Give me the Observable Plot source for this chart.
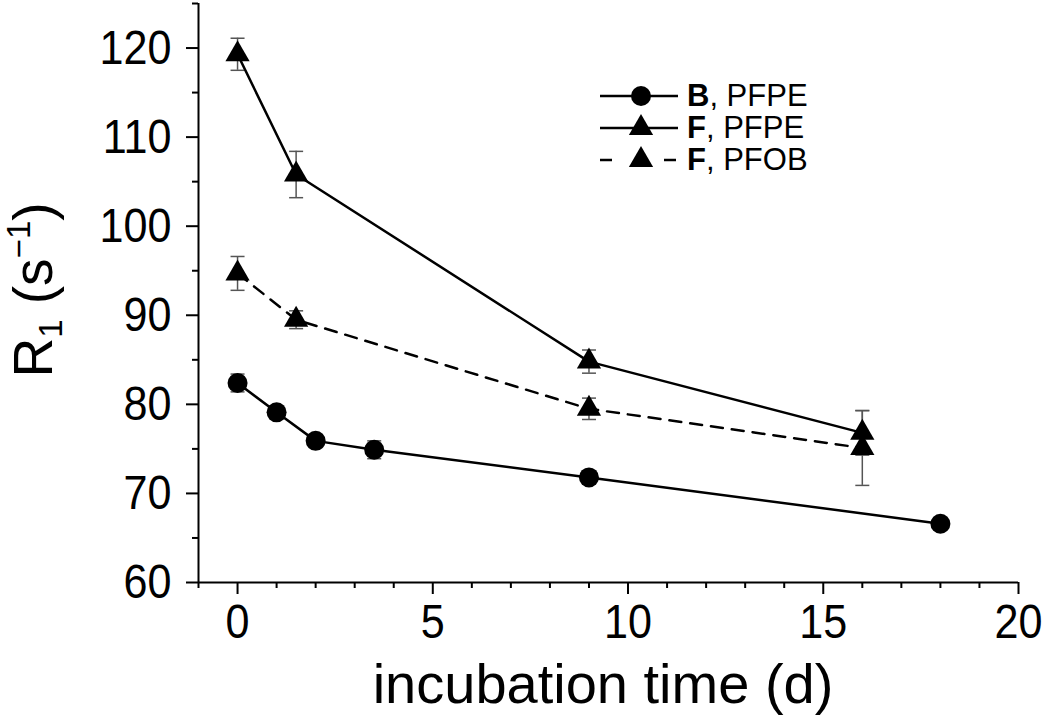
<!DOCTYPE html>
<html>
<head>
<meta charset="utf-8">
<script src="https://cdn.jsdelivr.net/npm/d3@7"></script>
<script src="https://cdn.jsdelivr.net/npm/@observablehq/plot@0.6"></script>
<style>
  html, body { margin: 0; padding: 0; background: #fff; }
  #wrap { position: relative; width: 1050px; height: 716px; font-family: "Liberation Sans", Arial, sans-serif; }
  #legend { position: absolute; left: 598px; top: 80px; }
</style>
</head>
<body>
<div id="wrap"><div id="chart"></div><div id="legend"></div></div>
<script>
// ---- data ----
const daysB = [0, 1, 2, 3.5, 9, 18];
const r1B = [82.4, 79.1, 75.9, 74.9, 71.8, 66.6];
const errB = [1.0, 0.4, 0.4, 1.0, 0.4, 0.4];

const daysF = [0, 1.5, 9, 16];
const r1F_PFPE = [119.3, 105.8, 84.8, 76.8];
const errF_PFPE = [1.8, 2.6, 1.3, 2.5];
const r1F_PFOB = [94.7, 89.5, 79.5, 75.1];
const errF_PFOB = [1.9, 1.0, 1.2, 4.2];

const legendBold = ["B", "F", "F"];
const legendRest = [", PFPE", ", PFPE", ", PFOB"];
const legendSymbols = ["circle", "triangle", "triangle"];
const legendDashed = [false, false, true];

const xDomain = [-1, 20];
const yDomain = [60, 125];
const xMajor = [0, 5, 10, 15, 20];
const xMinor = d3.range(-1, 21, 1).filter(v => v % 5 !== 0);
const yMajor = [60, 70, 80, 90, 100, 110, 120];
const yMinor = [65, 75, 85, 95, 105, 115, 125];

const xLabel = "incubation time (d)";

// ---- tables ----
const B = daysB.map((d, i) => ({day: d, r1: r1B[i], err: errB[i]}));
const FP = daysF.map((d, i) => ({day: d, r1: r1F_PFPE[i], err: errF_PFPE[i]}));
const FO = daysF.map((d, i) => ({day: d, r1: r1F_PFOB[i], err: errF_PFOB[i]}));
const all = [...B, ...FP, ...FO];

const cap = {draw(ctx, size) { const w = Math.sqrt(size / Math.PI); ctx.moveTo(-w, 0); ctx.lineTo(w, 0); }};
const font = "Liberation Sans, Arial, sans-serif";
const errColor = "#555";

const chart = Plot.plot({
  width: 1050,
  height: 716,
  marginLeft: 198,
  marginRight: 32,
  marginTop: 3,
  marginBottom: 134,
  style: {background: "white", fontFamily: font, fontSize: "49px", color: "black"},
  x: {domain: xDomain},
  y: {domain: yDomain},
  marks: [
    Plot.axisY({ticks: yMajor, tickSize: 12, tickPadding: 15, strokeWidth: 2, label: null, fontSize: 49}),
    Plot.axisY({ticks: yMinor, tickSize: 6, strokeWidth: 2, tickFormat: () => "", label: null}),
    Plot.axisX({ticks: xMajor, tickSize: 12, tickPadding: 9, strokeWidth: 2, label: null, fontSize: 49}),
    Plot.axisX({ticks: xMinor, tickSize: 6, strokeWidth: 2, tickFormat: () => "", label: null}),
    Plot.ruleX([xDomain[0]], {y1: yDomain[0], y2: yDomain[1], strokeWidth: 2}),
    Plot.ruleY([yDomain[0]], {x1: xDomain[0], x2: xDomain[1], strokeWidth: 2}),
    // error bars
    Plot.ruleX(all, {x: "day", y1: d => d.r1 - d.err, y2: d => d.r1 + d.err, stroke: errColor, strokeWidth: 1.5}),
    Plot.dot(all, {x: "day", y: d => d.r1 + d.err, symbol: cap, r: 7, stroke: errColor, fill: "none", strokeWidth: 1.5}),
    Plot.dot(all, {x: "day", y: d => d.r1 - d.err, symbol: cap, r: 7, stroke: errColor, fill: "none", strokeWidth: 1.5}),
    // lines
    Plot.line(B, {x: "day", y: "r1", stroke: "black", strokeWidth: 2.5}),
    Plot.line(FP, {x: "day", y: "r1", stroke: "black", strokeWidth: 2.5}),
    Plot.line(FO, {x: "day", y: "r1", stroke: "black", strokeWidth: 2.5, strokeDasharray: "12,9"}),
    // markers
    Plot.dot(B, {x: "day", y: "r1", symbol: "circle", r: 10, fill: "black", stroke: "none"}),
    Plot.dot(FP, {x: "day", y: "r1", symbol: "triangle", r: 9, fill: "black", stroke: "none"}),
    Plot.dot(FO, {x: "day", y: "r1", symbol: "triangle", r: 9, fill: "black", stroke: "none"})
  ]
});
document.getElementById("chart").appendChild(chart);

const svg = d3.select(chart);
// slightly condensed tick labels, like the reference
svg.selectAll('g[aria-label="y-axis tick label"] text, g[aria-label="x-axis tick label"] text')
  .attr("transform", function() { return (this.getAttribute("transform") || "") + " scale(0.88,1)"; });

// axis titles
svg.append("text")
  .attr("x", 603).attr("y", 703)
  .attr("text-anchor", "middle")
  .attr("font-size", 56).attr("font-family", font).attr("fill", "black")
  .text(xLabel);

const yt = svg.append("text")
  .attr("transform", "translate(52,290) rotate(-90)")
  .attr("text-anchor", "middle")
  .attr("font-size", 55).attr("font-family", font).attr("fill", "black");
yt.append("tspan").text("R");
yt.append("tspan").attr("font-size", 33).attr("dy", 10).text("1");
yt.append("tspan").attr("dy", -10).text(" (s");
yt.append("tspan").attr("font-size", 33).attr("dy", -22).text("\u22121");
yt.append("tspan").attr("dy", 22).text(")");

// legend
const leg = d3.select("#legend");
legendBold.forEach((b, i) => {
  const row = leg.append("div").style("display", "flex").style("align-items", "center").style("height", "32px");
  const s = row.append("svg").attr("width", 86).attr("height", 32);
  if (legendDashed[i]) {
    s.append("line").attr("x1", 2).attr("x2", 14).attr("y1", 16).attr("y2", 16)
      .attr("stroke", "black").attr("stroke-width", 2.5);
    s.append("line").attr("x1", 66).attr("x2", 78).attr("y1", 16).attr("y2", 16)
      .attr("stroke", "black").attr("stroke-width", 2.5);
  } else {
    s.append("line").attr("x1", 2).attr("x2", 80).attr("y1", 16).attr("y2", 16)
      .attr("stroke", "black").attr("stroke-width", 2.5);
  }
  const sym = legendSymbols[i] === "circle" ? d3.symbolCircle : d3.symbolTriangle;
  const size = legendSymbols[i] === "circle" ? Math.PI * 100 : Math.PI * 81;
  s.append("path").attr("d", d3.symbol(sym, size)()).attr("transform", "translate(43,16)").attr("fill", "black");
  const t = row.append("div").style("font-size", "31px").style("margin-left", "3px").style("line-height", "32px");
  t.append("b").text(b);
  t.append("span").text(legendRest[i]);
});
</script>
</body>
</html>
